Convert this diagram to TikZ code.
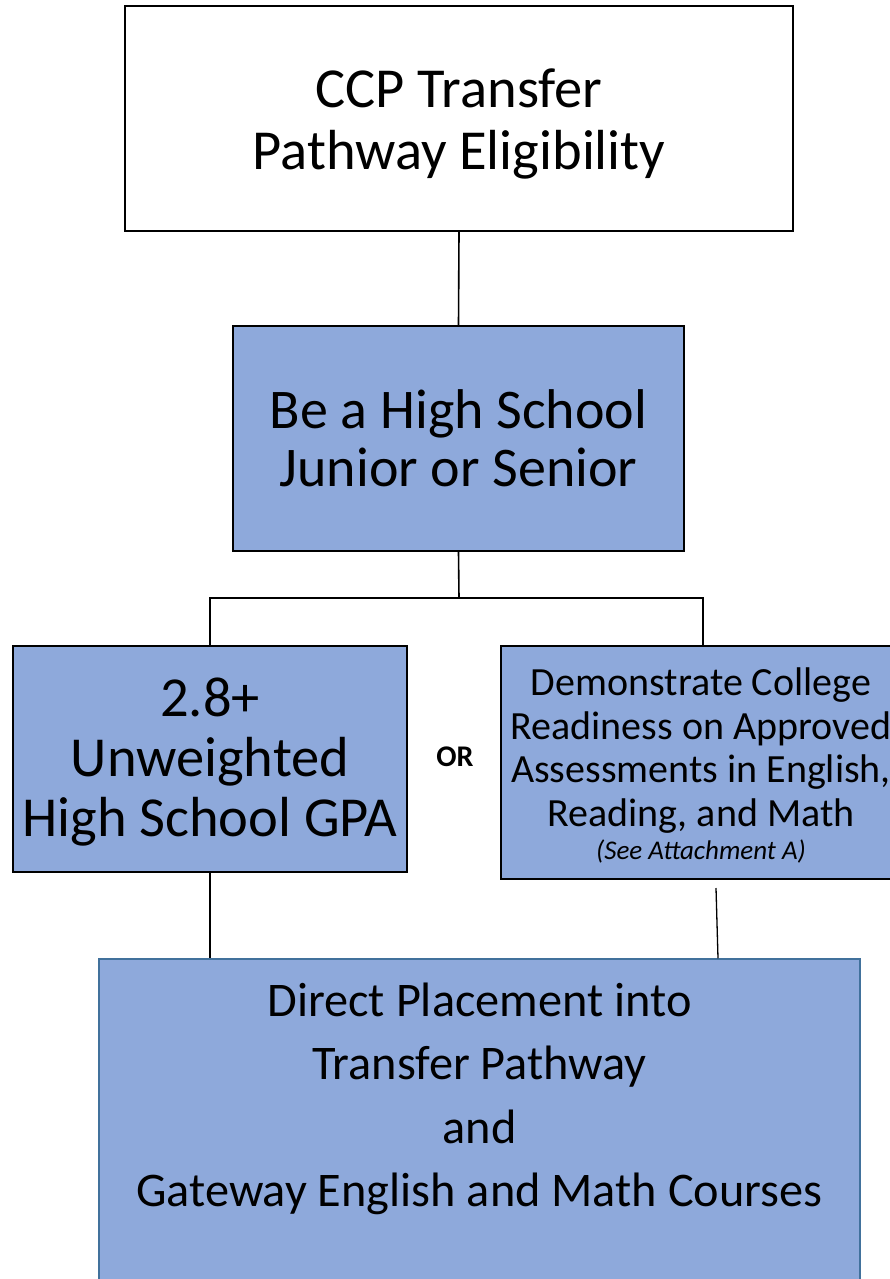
\documentclass[tikz,border=0pt]{standalone}
\usepackage{fontspec}
\setmainfont{Carlito}
\definecolor{boxfill}{HTML}{8EA9DB}
\definecolor{boxedge}{HTML}{41719C}
\newcommand\myhstrut[1]{\rule{0pt}{#1pt}}
\newcommand\mydstrut[1]{\rule[-#1pt]{0pt}{0pt}}
\begin{document}
\begin{tikzpicture}[x=1pt,y=-1pt,
  box/.style={draw=black,line width=2pt,fill=boxfill,inner sep=0pt,align=center},
  wire/.style={draw=black,line width=1.6pt}]
\useasboundingbox (0,0) rectangle (890,1279);
\node[box,fill=white,minimum width=668pt,minimum height=225pt,font=\fontsize{56.5}{62}\selectfont] (top) at (459,118.5) {\myhstrut{60}CCP Transfer\\Pathway Eligibility\mydstrut{20}};
\node[box,minimum width=451pt,minimum height=225pt,font=\fontsize{56}{58.5}\selectfont] (hs) at (458.5,438.5) {Be a High School\\Junior or Senior};
\node[box,minimum width=394pt,minimum height=226pt,font=\fontsize{56.5}{60}\selectfont] (gpa) at (210,759) {\myhstrut{54}2.8+\\Unweighted\\High School GPA\mydstrut{20}};
\node[box,minimum width=400pt,minimum height=233pt,font=\fontsize{40}{43.5}\selectfont] (dem) at (701,762.5) {\myhstrut{40}Demonstrate College\\Readiness on Approved\\Assessments in English,\\Reading, and Math\\[-10pt]{\fontsize{27}{30}\selectfont\itshape (See Attachment A)}\mydstrut{10}};
\node[font=\bfseries\fontsize{30}{32}\selectfont] (or) at (455,757) {OR};
\node[box,draw=boxedge,line width=1.5pt,minimum width=761pt,minimum height=340pt] (bot) at (479.5,1129) {};
\node[align=center,font=\fontsize{48.3}{63.5}\selectfont,anchor=north] (bottxt) at (479.5,979) {Direct Placement into\\Transfer Pathway\\and\\Gateway English and Math Courses};
\coordinate (split) at (459,598);
\coordinate (rgap) at (716,888);
\draw[wire] (top.south) -- (hs.north);
\draw[wire] (hs.south) -- (split);
\draw[wire] (gpa.north) |- (split) -| (703,0 |- dem.north);
\draw[wire] (gpa.south) -- (gpa.south |- bot.north);
\draw[wire,line width=1.3pt] (rgap) -- (718,0 |- bot.north);
\end{tikzpicture}
\end{document}
